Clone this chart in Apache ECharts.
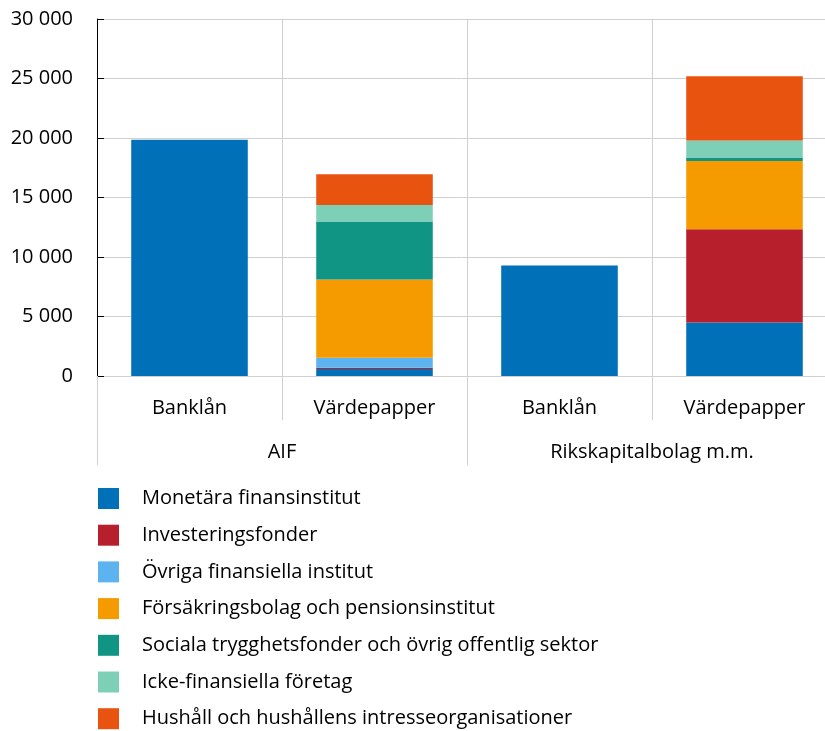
<!DOCTYPE html>
<html>
<head>
<meta charset="utf-8">
<script src="https://cdn.jsdelivr.net/npm/echarts@6/dist/echarts.min.js"></script>
<style>
  html, body { margin: 0; padding: 0; background: #fff; }
  #main { width: 825px; height: 731px; }
</style>
</head>
<body>
<div id="main"></div>
<script>
// kategorier
var categories = ['Banklån', 'Värdepapper', 'Banklån', 'Värdepapper'];
var groups = ['AIF', 'Rikskapitalbolag m.m.'];

// serier, nerifrån och upp i stapeln
var seriesNames = [
  'Monetära finansinstitut',
  'Investeringsfonder',
  'Övriga finansiella institut',
  'Försäkringsbolag och pensionsinstitut',
  'Sociala trygghetsfonder och övrig offentlig sektor',
  'Icke-finansiella företag',
  'Hushåll och hushållens intresseorganisationer'
];
var monetara = [19860, 590, 9280, 4490];
var investering = [0, 110, 0, 7850];
var ovriga = [0, 840, 0, 0];
var forsakring = [0, 6560, 0, 5720];
var sociala = [0, 4880, 0, 310];
var ickeFin = [0, 1400, 0, 1430];
var hushall = [0, 2580, 0, 5390];

var colors = ['#0070b8', '#b81f2d', '#5db3f0', '#f59b00', '#109585', '#7dd0b6', '#e8530f'];

var values = [monetara, investering, ovriga, forsakring, sociala, ickeFin, hushall];

var FONT = 'Open Sans';

function fmt(v) {
  return String(v).replace(/\B(?=(\d{3})+(?!\d))/g, ' ');
}

var myChart = echarts.init(document.getElementById('main'));

var series = seriesNames.map(function (name, i) {
  return {
    name: name,
    type: 'bar',
    stack: 'total',
    xAxisIndex: 0,
    barWidth: '63%',
    data: values[i],
    itemStyle: { color: colors[i] }
  };
});

var option = {
  animation: false,
  color: colors,
  textStyle: { fontFamily: FONT },
  // diagrammet fortsätter utanför högerkanten i förlagan
  grid: { left: 97, top: 19, width: 740, height: 357, outerBoundsMode: 'none' },
  legend: {
    orient: 'vertical',
    left: 98,
    top: 488,
    padding: 0,
    height: 260,
    itemWidth: 21,
    itemHeight: 21,
    itemGap: 15.7,
    icon: 'rect',
    data: seriesNames,
    textStyle: { fontSize: 20, color: '#000', fontFamily: FONT, padding: [0, 0, 0, 18] }
  },
  xAxis: [
    {
      type: 'category',
      data: categories,
      position: 'bottom',
      axisLine: { lineStyle: { color: '#d0d0d0', width: 1 } },
      axisTick: { show: true, length: 44, interval: 0, lineStyle: { color: '#d0d0d0' } },
      axisLabel: { margin: 22, fontSize: 20, color: '#000', fontFamily: FONT, interval: 0 },
      splitLine: { show: true, interval: 0, lineStyle: { color: '#d0d0d0' } }
    },
    {
      type: 'category',
      data: groups,
      position: 'bottom',
      axisLine: { show: false },
      axisTick: { show: true, length: 89, interval: 0, lineStyle: { color: '#d0d0d0' } },
      axisLabel: { margin: 66, fontSize: 20, color: '#000', fontFamily: FONT, interval: 0 },
      splitLine: { show: false }
    }
  ],
  yAxis: {
    type: 'value',
    min: 0,
    max: 30000,
    interval: 5000,
    axisLine: { show: true, lineStyle: { color: '#000', width: 1 } },
    axisTick: { show: true, inside: true, length: 7, lineStyle: { color: '#000' } },
    axisLabel: { margin: 24, fontSize: 20, color: '#000', fontFamily: FONT, formatter: fmt },
    splitLine: { show: true, lineStyle: { color: '#d0d0d0' } }
  },
  series: series
};

myChart.setOption(option);
</script>
</body>
</html>
